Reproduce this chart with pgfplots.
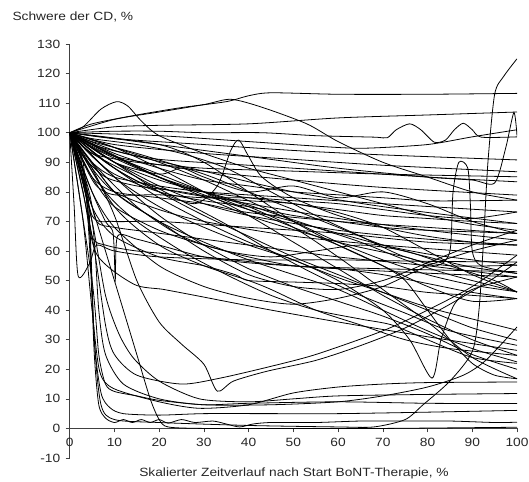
\documentclass[border=0pt]{standalone}
\usepackage{pgfplots}
\pgfplotsset{compat=1.18}
\usepackage{fontspec}
\setmainfont{Liberation Sans}[FakeStretch=1.15]
\begin{document}
\begin{tikzpicture}
\useasboundingbox (0,0) rectangle (529bp,482bp);
\begin{axis}[
  at={(69.7bp,24bp)}, anchor=south west,
  scale only axis, width=447.3bp, height=414bp,
  xmin=0, xmax=100, ymin=-10, ymax=130,
  axis y line=left, axis x line=middle,
  axis line style={-, black!75, line width=0.6pt},
  hide obscured x ticks=false, hide obscured y ticks=false,
  xtick={0,10,...,100}, ytick={-10,0,10,...,130},
  minor tick num=0,
  tick align=outside, major tick length=4bp,
  tick style={black!75, line width=0.5pt},
  /pgf/number format/assume math mode=true,
  tick label style={font=\fontsize{12}{14}\selectfont, text=black!85},
  xticklabel style={yshift=-2bp},
  yticklabel style={xshift=-2bp},
  cycle list={{black}},
  every axis plot post/.append style={black, solid, line width=0.8pt, smooth, tension=0.45, mark=none},
  clip=true,
]
% ---- upper lines
\addplot coordinates {(0,100)(5,103)(15,106)(25,108.5)(35,110.5)(40,112.5)(45,113.5)(60,113)(80,113)(100,113.3)};
\addplot coordinates {(0,100)(3,102)(7,108)(10.5,110.5)(13,109)(16,104)(20,99)(30,93)(40,88)(50,84)(60,80)(70,76)(80,72)(90,69)(100,67)};
\addplot coordinates {(0,100)(10,104.5)(20,107)(30,109.5)(36,111.3)(43,108.6)(53,103)(60,97)(70,90)(80,85)(90,80)(100,77.2)};
\addplot coordinates {(0,100)(10,102)(20,102.5)(40,103)(60,105)(80,106)(100,107)};
\addplot coordinates {(0,100)(10,100.5)(20,100.5)(30,100)(43,100)(55,99)(68,98.5)(71,98.3)(73,101)(76,103)(78.5,101)(81.5,96.8)(84,97.5)(86,101)(88,103.2)(90,101)(92,98.5)(100,98.6)};
\addplot coordinates {(0,100)(20,99)(40,97)(60,95)(67,94.8)(80,96)(90,98.6)(100,101)};
\addplot coordinates {(0,100)(20,96)(40,92)(60,88)(80,85)(90,84)(95,83)(97.5,95)(99.3,106.8)(100,99)};
% ---- middle lines
\addplot coordinates {(0,100)(10,98)(30,96)(50,94)(70,92.5)(100,90.8)};
\addplot coordinates {(0,100)(10,96)(30,93)(50,91)(70,89)(100,86.8)};
\addplot coordinates {(0,100)(5,93)(15,90)(30,88)(50,87)(70,86)(100,85.1)};
\addplot coordinates {(0,100)(10,94)(20,91)(40,89)(60,87)(80,85)(100,83.4)};
\addplot coordinates {(0,100)(10,92)(30,87)(50,84)(70,81.5)(100,78.9)};
\addplot coordinates {(0,100)(5,90)(10,85)(20,82)(30,80)(50,78)(70,76)(100,73.2)};
\addplot coordinates {(0,100)(5,96)(15,92)(30,87)(50,80)(70,75)(100,69.3)};
\addplot coordinates {(0,100)(5,85)(10,80)(20,78)(30,76)(40,73)(60,70)(80,68)(100,65.9)};
\addplot coordinates {(0,100)(3,92)(8,85)(15,82)(25,80)(40,76)(60,71)(80,67)(100,63.7)};
\addplot coordinates {(0,100)(10,90)(20,82)(30,76)(40,72)(60,67)(80,64)(100,62)};
\addplot coordinates {(0,100)(5,88)(10,80)(20,74)(30,70)(50,65)(70,62)(100,58.6)};
\addplot coordinates {(0,100)(1,75)(1.9,51.5)(4.5,56)(6,62)(10,60)(20,58)(40,57)(60,57)(80,56.5)(100,56.3)};
\addplot coordinates {(0,100)(10,92)(20,85)(30,79)(40,74)(50,70)(60,66)(70,62)(80,59)(90,57)(100,55.2)};
\addplot coordinates {(0,100)(5,97)(15,93)(30,86)(40,80)(50,74)(60,68)(70,62)(80,58)(90,54.5)(100,52.4)};
\addplot coordinates {(0,100)(5,80)(8,70)(9.7,66)(10.2,50.5)(10.7,65)(15,64)(20,62)(30,58)(40,56)(60,54)(80,52.5)(100,51.2)};
\addplot coordinates {(0,100)(10,95)(20,90)(30,84)(40,77)(50,70)(60,63)(70,57)(80,52)(90,48.5)(100,46.2)};
\addplot coordinates {(0,100)(5,85)(10,75)(20,67)(30,62)(40,58)(50,55)(60,54)(70,52)(80,49)(90,46)(100,43.9)};
\addplot coordinates {(0,100)(5,70)(6.5,40)(8,25)(12,15)(20,10)(30,8)(45,8)(60,9)(70,11)(80,14)(88,18)(93,23)(100,34.3)};
\addplot coordinates {(0,100)(10,88)(20,78)(30,70)(40,63)(50,57)(60,51)(70,46)(80,41)(90,37)(100,33.2)};
\addplot coordinates {(0,100)(10,90)(20,80)(30,72)(40,65)(50,58)(60,52)(70,46)(80,40)(90,34)(100,29.8)};
\addplot coordinates {(0,100)(5,93)(15,85)(25,77)(35,69)(45,60)(55,52)(65,45)(75,39)(85,33)(100,28.1)};
\addplot coordinates {(0,100)(3,80)(6,59)(14.3,48.8)(21,47)(29,44.7)(44,40.3)(60,36)(80,31)(100,26.4)};
\addplot coordinates {(0,100)(10,95)(20,88)(30,80)(40,72)(50,63)(60,54)(70,45)(80,37)(90,30)(100,24.7)};
\addplot coordinates {(0,100)(5,90)(10,80)(20,70)(30,63)(40,57)(50,52)(60,47)(70,40)(80,33)(90,27)(100,22.5)};
\addplot coordinates {(0,100)(10,92)(20,85)(30,80)(40,75)(50,68)(60,58)(70,47)(80,36)(90,24)(100,16.8)};
\addplot coordinates {(0,100)(10,88)(20,80)(28,76)(33,82)(36,94)(37.8,97.5)(40,92)(43,85)(50,78)(60,72)(70,68)(80,65)(90,63)(100,62)};
\addplot coordinates {(0,100)(20,85)(40,72)(60,63)(75,58)(82,55)(85,60)(85.7,80)(87,90)(89,88)(89.6,75)(90,60)(92,55)(100,52.4)};
\addplot coordinates {(0,100)(10,85)(20,75)(30,68)(40,62)(50,57)(60,50)(70,40)(76,30)(81,17)(83,30)(86,42)(90,47)(100,51.2)};
\addplot coordinates {(0,100)(5,75)(10,65)(20,58)(30,55)(37,52)(40,50)(50,49.5)(60,49)(70,48)(80,46)(90,45)(100,43.9)};
% ---- extra middle lines
\addplot coordinates {(0,100)(3,85)(5,65)(8,62)(15,60)(30,58)(50,55)(70,54)(100,53)};
\addplot coordinates {(0,100)(4,82)(6,70)(10,68)(20,66)(40,62)(60,58)(80,55)(100,51.2)};
\addplot coordinates {(0,100)(2,95)(5,72)(10,70)(20,70)(40,68)(60,66)(80,63)(100,62)};
\addplot coordinates {(0,100)(10,93)(20,88)(30,84)(40,82)(50,80)(60,79)(70,78)(80,77)(90,77)(100,77.2)};
\addplot coordinates {(0,100)(10,90)(20,84)(30,80)(40,78)(50,76)(60,74)(70,72)(80,71)(90,70)(100,69.3)};
\addplot coordinates {(0,100)(5,92)(10,86)(20,80)(30,77)(40,75)(50,72)(60,70)(70,68)(80,67)(100,66)};
\addplot coordinates {(0,100)(5,95)(15,88)(25,82)(35,78)(45,73)(55,68)(65,63)(75,57)(85,52)(100,46.2)};
\addplot coordinates {(0,100)(20,96)(30,90)(40,80)(50,70)(60,62)(70,55)(80,48)(90,43)(100,43.9)};
\addplot coordinates {(0,100)(10,90)(20,86)(25,88)(30,85)(40,80)(50,82)(60,78)(70,80)(80,76)(90,70)(100,65.9)};
\addplot coordinates {(0,100)(10,80)(20,70)(30,60)(40,52)(50,48)(60,47)(70,50)(80,56)(90,62)(100,67)};
\addplot coordinates {(0,100)(5,80)(10,68)(20,55)(30,48)(40,44)(50,42)(60,44)(70,48)(80,55)(90,60)(100,63.7)};
\addplot coordinates {(0,100)(5,98)(15,96)(25,93)(35,88)(45,80)(55,72)(65,65)(75,58)(85,55)(100,55.2)};
\addplot coordinates {(0,100)(8,90)(16,83)(24,80)(32,78)(40,77)(50,76)(60,73)(70,68)(80,60)(90,52)(100,46.2)};
\addplot coordinates {(0,100)(3,90)(6,82)(10,79)(20,79)(30,78)(40,78)(50,77)(60,76)(70,74)(80,72)(90,71)(100,73.2)};
\addplot coordinates {(0,100)(10,75)(20,62)(30,55)(40,50)(45,47)(55,40)(65,35)(75,30)(85,27)(100,24.7)};
\addplot coordinates {(0,100)(5,90)(15,75)(25,65)(35,60)(45,58)(55,60)(65,62)(75,60)(85,55)(95,50)(100,46)};
\addplot coordinates {(0,100)(10,92)(20,86)(30,80)(40,74)(50,68)(60,62)(70,55)(75,50)(80,40)(85,30)(90,22)(95,18)(100,16.8)};
\addplot coordinates {(0,100)(10,85)(20,72)(30,62)(40,54)(50,48)(60,43)(70,38)(80,32)(90,25)(100,20)};
\addplot coordinates {(0,100)(8,80)(15,70)(25,60)(35,52)(45,45)(55,40)(65,37)(72,35)(80,30)(90,24)(100,22)};
% ---- bottom lines
\addplot coordinates {(0,100)(3,90)(4.5,60)(5.5,25)(6.5,8)(8,3.5)(10,2)(12,3)(14,2)(16,3)(18,2)(20,3)(22,1.8)(25,3)(28,2)(32,2.5)(35,1.5)(38,0.5)(41,1.5)(45,2)(55,2)(65,2.5)(75,2.5)(85,2.5)(95,2)(100,2.1)};
\addplot coordinates {(0,100)(5,75)(10,50)(15,25)(18,10)(20,3)(22,0.5)(30,0)(50,0)(70,0)(100,0.4)};
\addplot coordinates {(0,100)(4,75)(5.5,30)(7,12)(9,7)(12,5)(20,4.5)(30,5)(45,5)(60,5)(80,5.5)(100,6.1)};
\addplot coordinates {(0,100)(5,50)(6.5,25)(8,15)(10,12.5)(15,11)(20,9.5)(30,8)(40,8.5)(60,9)(80,8.5)(100,8.4)};
\addplot coordinates {(0,100)(5,70)(8,45)(11,32)(14.3,23.7)(20,16)(29,10)(40,9)(50,10)(60,11)(80,11.5)(100,11.8)};
\addplot coordinates {(0,100)(3,70)(5,40)(6.7,19.3)(9.8,13.5)(20,9)(29,6.8)(40,8)(50,12)(60,14)(70,15)(80,15.5)(100,15.7)};
\addplot coordinates {(0,100)(5,88)(10,72)(15,50)(20,36)(25,28.5)(30,21.7)(33,12.6)(36.6,16)(44,19.3)(55,23)(65,28)(75,34)(85,42)(95,51)(100,56.3)};
\addplot coordinates {(0,100)(4,80)(5.5,30)(7,8)(10,3)(20,2)(40,1)(60,0.5)(68,0.5)(75,3)(79,8)(85,16)(90,26)(91.5,40)(92.5,63)(93.5,90)(95,113)(97,119)(100,125)};
\addplot coordinates {(0,100)(5,65)(8,35)(10,25)(15,18)(25,15)(33.6,17)(45,21)(55,25)(70,33)(80,40)(90,48)(100,58.6)};
\end{axis}
\node[anchor=west, font=\fontsize{12}{14}\selectfont, text=black!85] at (9bp,465bp) {Schwere der CD, \%};
\node[font=\fontsize{12}{14}\selectfont, text=black!85] at (294bp,9bp) {Skalierter Zeitverlauf nach Start BoNT-Therapie, \%};
\end{tikzpicture}
\end{document}
